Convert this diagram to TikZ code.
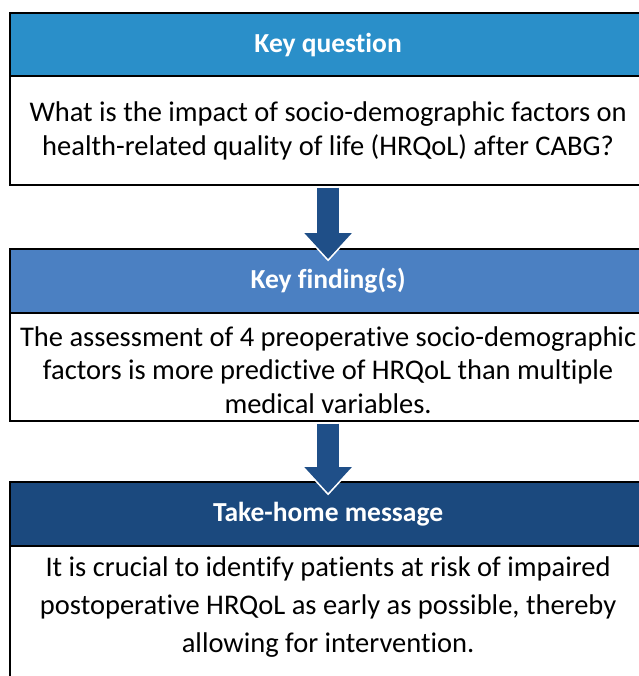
\documentclass[tikz,border=0pt]{standalone}
\usepackage{fontspec}
\setmainfont[Ligatures=CommonOff]{Carlito}
\usetikzlibrary{calc,arrows.meta}

\definecolor{qblue}{HTML}{2A8FC9}
\definecolor{fblue}{HTML}{4B80C2}
\definecolor{mblue}{HTML}{1B497E}
\definecolor{arrowblue}{HTML}{1F4F88}

\tikzset{
  header/.style={draw=black, line width=2.2pt, minimum width=636pt, minimum height=#1,
    anchor=north west, inner sep=0pt, text=white,
    font=\fontsize{27.5}{32}\selectfont\bfseries},
  body/.style={draw=black, line width=2.2pt, fill=white, minimum width=636pt, minimum height=#1,
    anchor=north west, inner sep=0pt, align=center,
    font=\fontsize{28.5}{34}\selectfont},
  bodytext/.style={align=center, inner sep=0pt, font=\fontsize{28.5}{#1}\selectfont},
  flow/.style={line width=22pt, draw=arrowblue, -{Triangle[width=46pt,length=26pt]},
    preaction={draw=white, line width=25pt, shorten >=-2.5pt,
      -{Triangle[width=53pt,length=30pt]}}}
}

\begin{document}
\begin{tikzpicture}[x=1pt,y=-1pt]
\useasboundingbox (0,0) rectangle (638,676);

% Key question
\node[header=63pt, fill=qblue] (h1) at (9,12) {Key question};
\node[body=109pt] (b1) at (9,75)
  {What is the impact of socio-demographic factors on\\
   health-related quality of life (HRQoL) after CABG?};

% Key finding(s)
\node[header=64pt, fill=fblue] (h2) at (9,248) {Key finding(s)};
\node[body=108pt] (b2) at (9,312) {};
\node[bodytext=33.5] (t2) at ($(b2.center)+(0,3)$)
  {The assessment of 4 preoperative socio-demographic\\
   factors is more predictive of HRQoL than multiple\\
   medical variables.};

% Take-home message
\node[header=64pt, fill=mblue] (h3) at (9,481) {Take-home message};
\node[body=150pt] (b3) at (9,545) {};
\node[bodytext=38] (t3) at ($(b3.north)+(0,62)$)
  {It is crucial to identify patients at risk of impaired\\
   postoperative HRQoL as early as possible, thereby\\
   allowing for intervention.};

% Flow arrows between the blocks
\draw[flow] ($(b1.south)+(0,1.5)$) -- ($(h2.north)+(0,11)$);
\draw[flow] ($(b2.south)+(0,1.5)$) -- ($(h3.north)+(0,12)$);
\end{tikzpicture}
\end{document}
